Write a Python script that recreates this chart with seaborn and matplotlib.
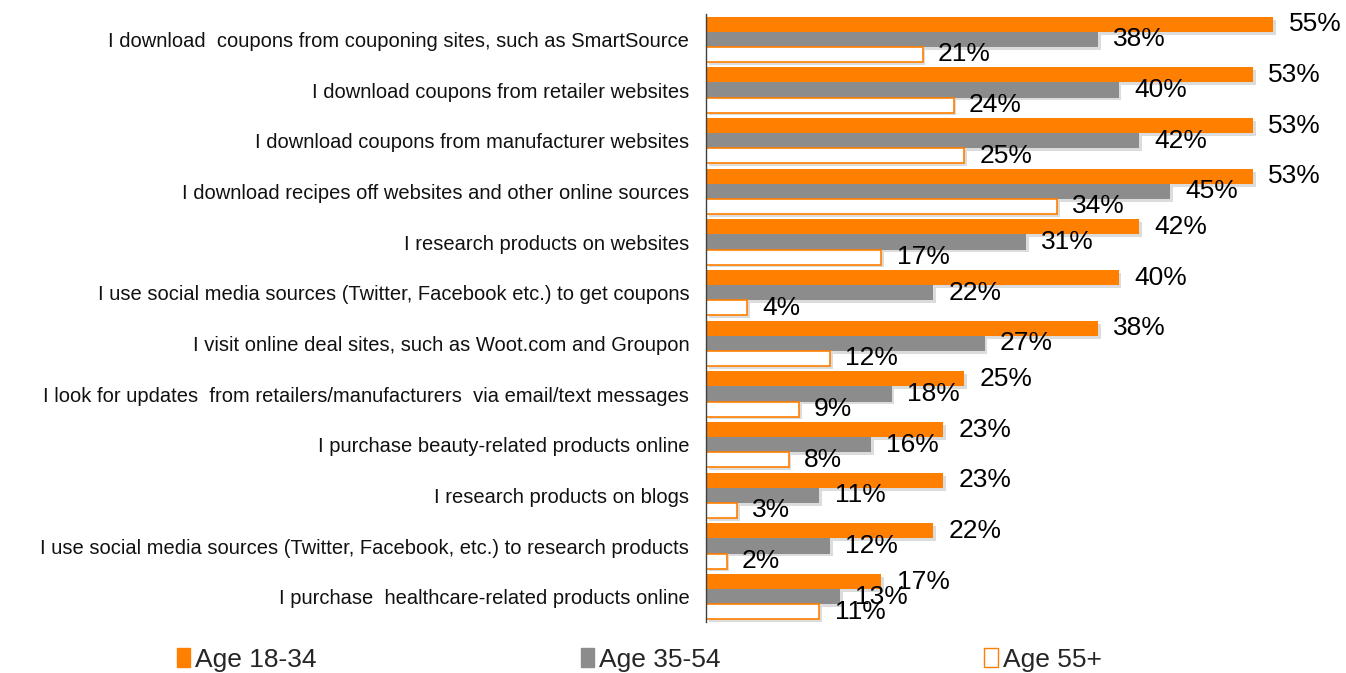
import matplotlib
matplotlib.use("Agg")
import matplotlib.pyplot as plt
import matplotlib.patheffects as pe
from matplotlib.patches import Patch
import seaborn as sns
import pandas as pd
import numpy as np

categories = [
    "I download  coupons from couponing sites, such as SmartSource",
    "I download coupons from retailer websites",
    "I download coupons from manufacturer websites",
    "I download recipes off websites and other online sources",
    "I research products on websites",
    "I use social media sources (Twitter, Facebook etc.) to get coupons",
    "I visit online deal sites, such as Woot.com and Groupon",
    "I look for updates  from retailers/manufacturers  via email/text messages",
    "I purchase beauty-related products online",
    "I research products on blogs",
    "I use social media sources (Twitter, Facebook, etc.) to research products",
    "I purchase  healthcare-related products online",
]
series = ["Age 18-34", "Age 35-54", "Age 55+"]
age_18_34 = [55, 53, 53, 53, 42, 40, 38, 25, 23, 23, 22, 17]
age_35_54 = [38, 40, 42, 45, 31, 22, 27, 18, 16, 11, 12, 13]
age_55p = [21, 24, 25, 34, 17, 4, 12, 9, 8, 3, 2, 11]

ORANGE = "#FF7F00"
GRAY = "#8C8C8C"
WHITE = "#FFFFFF"

rows = []
for s, vals in zip(series, [age_18_34, age_35_54, age_55p]):
    for c, v in zip(categories, vals):
        rows.append({"category": c, "series": s, "value": v})
df = pd.DataFrame(rows)

sns.set_style("white")
plt.rcParams["font.family"] = ["Liberation Sans", "DejaVu Sans"]

fig = plt.figure(figsize=(13.46, 6.73), dpi=100)
ax = fig.add_axes([706/1346, 1-622/673, (1325-706)/1346, (622-14)/673])

sns.barplot(data=df, y="category", x="value", hue="series", orient="h",
            order=categories, hue_order=series,
            palette=[ORANGE, GRAY, WHITE], width=0.89, ax=ax,
            legend=False, saturation=1, errorbar=None)

shadow = [pe.SimplePatchShadow(offset=(2, -2), shadow_rgbFace="#777777", alpha=0.25), pe.Normal()]
for i, cont in enumerate(ax.containers):
    for bar in cont:
        if i == 2:
            bar.set_edgecolor(ORANGE)
            bar.set_linewidth(1.2)
        else:
            bar.set_edgecolor("none")
        bar.set_path_effects(shadow)
    texts = ax.bar_label(cont, labels=[f"{int(v)}%" for v in cont.datavalues],
                         padding=11, fontsize=19, color="black")

ax.set_xlim(0, 60)
ax.set_ylim(len(categories) - 0.5, -0.5)
ax.set_xlabel("")
ax.set_ylabel("")
ax.set_xticks([])
for side in ["top", "right", "bottom"]:
    ax.spines[side].set_visible(False)
ax.spines["left"].set_color("#404040")
ax.spines["left"].set_linewidth(1.0)

ax.set_yticks(range(len(categories)))
ax.set_yticklabels(categories, fontsize=14.5, color="#111111")
ax.tick_params(axis="y", which="major", length=0, pad=12)
ax.set_yticks(np.arange(-0.5, len(categories), 1.0), minor=True)
ax.tick_params(axis="y", which="minor", length=6, width=1, color="#404040", direction="out")

handles = [
    Patch(facecolor=ORANGE, edgecolor=ORANGE, label=series[0]),
    Patch(facecolor=GRAY, edgecolor=GRAY, label=series[1]),
    Patch(facecolor=WHITE, edgecolor=ORANGE, label=series[2]),
]
fig.legend(handles=handles, loc="center left", bbox_to_anchor=(153/1346, 1-660/673),
           ncol=3, frameon=False, fontsize=19, handlelength=0.5, handleheight=0.75,
           handletextpad=0.2, columnspacing=10.0)

fig.savefig("out.png", dpi=100)
